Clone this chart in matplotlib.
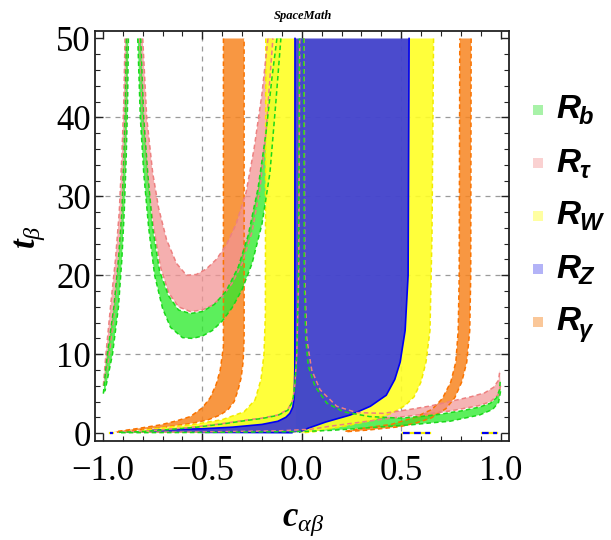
import matplotlib
matplotlib.use("Agg")
import matplotlib.pyplot as plt
from matplotlib.patches import Polygon, Rectangle
import numpy as np

plt.rcParams['mathtext.fontset'] = 'custom'
plt.rcParams['mathtext.rm'] = 'Liberation Serif'
plt.rcParams['mathtext.it'] = 'Liberation Serif:italic'
plt.rcParams['mathtext.bf'] = 'Liberation Serif:bold'
plt.rcParams['mathtext.bfit'] = 'Liberation Serif:italic:bold'
plt.rcParams['font.family'] = ['Liberation Serif', 'DejaVu Serif']

# ---------------- axis ticks ----------------
x_ticks = [-1.0, -0.5, 0.0, 0.5, 1.0]
x_tick_labels = ['\u22121.0', '\u22120.5', '0.0', '0.5', '1.0']
y_ticks = [0, 10, 20, 30, 40, 50]
y_tick_labels = ['0', '10', '20', '30', '40', '50']

# ---------------- R_b (green) ----------------
rb_branch_left_x = [-0.998, -0.978, -0.945, -0.922, -0.905, -0.895, -0.887, -0.882]
rb_branch_left_y = [5.0, 10, 16, 22, 28, 35, 42, 50]
rb_branch_right_x = [-0.872, -0.876, -0.883, -0.893, -0.905, -0.922, -0.952, -0.99]
rb_branch_right_y = [50, 42, 35, 28, 22, 16, 10, 5.3]

rb_u_outer_x = [-0.825, -0.812, -0.795, -0.77, -0.74, -0.70, -0.66, -0.60, -0.55, -0.50,
                -0.45, -0.40, -0.35, -0.30, -0.25, -0.20, -0.16, -0.13, -0.105]
rb_u_outer_y = [50, 40, 33, 26, 20, 15.8, 13.4, 12.1, 12.0, 12.3,
                13.0, 14.2, 15.9, 18.2, 21.5, 26.5, 33, 42, 50]
rb_u_inner_x = [-0.81, -0.795, -0.775, -0.75, -0.715, -0.67, -0.62, -0.56, -0.50,
                -0.44, -0.38, -0.32, -0.27, -0.22, -0.18, -0.15, -0.125]
rb_u_inner_y = [50, 40, 33, 26, 20.5, 17.4, 15.6, 15.15, 15.4,
                16.3, 18.0, 21.0, 25, 31, 38, 45, 50]

rb_low_upper_x = [-0.92, -0.80, -0.70, -0.53, -0.40, -0.28, -0.20, -0.12, -0.07, -0.045,
                  -0.035, -0.025, -0.017, -0.012]
rb_low_upper_y = [0.1, 0.2, 0.38, 0.75, 1.15, 1.6, 1.85, 2.25, 2.9, 4.1, 6, 10, 20, 50]
rb_low_right_x = [0.01, 0.012, 0.02, 0.033, 0.067, 0.126, 0.21, 0.34, 0.49, 0.6, 0.7,
                  0.745, 0.8, 0.895, 0.95, 0.98, 0.995, 0.998]
rb_low_right_y = [50, 20, 12, 8.5, 5.9, 3.8, 2.7, 2.1, 1.9, 2.1, 2.4,
                  2.6, 2.8, 3.3, 3.8, 4.5, 5.5, 6.5]
rb_low_lower_x = [1.0, 0.99, 0.96, 0.895, 0.80, 0.745, 0.65, 0.55, 0.35, 0.15, 0.0, -0.5, -0.92]
rb_low_lower_y = [5.3, 3.9, 3.0, 2.3, 1.8, 1.5, 1.3, 1.05, 0.7, 0.35, 0.2, 0.08, 0.05]

# ---------------- R_tau (pink) ----------------
rt_branch_left_x = [-0.998, -0.985, -0.962, -0.937, -0.918, -0.905, -0.895, -0.889]
rt_branch_left_y = [6.0, 10, 16, 22, 28, 35, 42, 50]
rt_branch_right_x = [-0.879, -0.884, -0.892, -0.904, -0.921, -0.94, -0.968, -0.992]
rt_branch_right_y = [50, 42, 35, 28, 22, 16, 10, 6.5]

rt_u_outer_x = [-0.815, -0.80, -0.775, -0.745, -0.71, -0.67, -0.62, -0.56, -0.50, -0.45,
                -0.40, -0.35, -0.30, -0.25, -0.21, -0.18, -0.16, -0.145]
rt_u_outer_y = [50, 40, 32, 26, 21, 17.8, 16.0, 15.4, 15.6, 16.2,
                17.3, 19.0, 21.5, 25.5, 31, 38, 45, 50]
rt_u_inner_x = [-0.80, -0.78, -0.75, -0.72, -0.68, -0.63, -0.58, -0.53, -0.48, -0.43,
                -0.38, -0.33, -0.28, -0.24, -0.20, -0.17]
rt_u_inner_y = [50, 40, 33, 28.5, 24.5, 21.5, 20.0, 20.1, 20.8, 22.0,
                23.8, 26.5, 30.5, 36, 43, 50]

rt_low_upper_x = [-0.90, -0.80, -0.70, -0.53, -0.40, -0.28, -0.20, -0.12, -0.07, -0.045,
                  -0.035, -0.025, -0.015, -0.01]
rt_low_upper_y = [0.15, 0.25, 0.42, 0.8, 1.2, 1.65, 1.9, 2.3, 3.0, 4.2, 6, 10, 20, 50]
rt_low_right_x = [0.012, 0.015, 0.025, 0.05, 0.092, 0.176, 0.276, 0.41, 0.544, 0.65,
                  0.745, 0.85, 0.92, 0.965, 0.99, 0.997]
rt_low_right_y = [50, 20, 12, 8, 5.5, 3.4, 2.6, 2.5, 3.0, 3.45,
                  4.0, 4.6, 5.1, 5.8, 6.7, 8.0]
rt_low_lower_x = [1.0, 0.99, 0.95, 0.895, 0.80, 0.745, 0.65, 0.55, 0.45, 0.3, 0.15, 0.05,
                  -0.10, -0.50, -0.90]
rt_low_lower_y = [6.0, 4.9, 4.0, 3.5, 3.05, 2.8, 2.5, 2.2, 1.9, 1.4, 0.9, 0.5,
                  0.3, 0.15, 0.1]

# ---------------- R_W (yellow) ----------------
rw_left_outer_x = [-0.181, -0.183, -0.19, -0.205, -0.235, -0.29, -0.40, -0.545, -0.71, -0.80, -0.82]
rw_left_outer_y = [50, 15, 10, 6.8, 4.2, 2.7, 1.7, 1.1, 0.65, 0.35, 0.12]
rw_left_inner_x = [-0.03, -0.03]
rw_left_inner_y = [0.05, 50]

rw_right_outer_x = [0.663, 0.655, 0.645, 0.625, 0.60, 0.565, 0.52, 0.46, 0.36, 0.2, 0.06, 0.0]
rw_right_outer_y = [50, 25, 13, 9, 6.5, 4.6, 3.5, 2.6, 1.65, 0.8, 0.17, 0.03]

# ---------------- R_Z (blue) ----------------
rz_left_x = [-0.034, -0.035, -0.038, -0.045, -0.06, -0.08, -0.12, -0.2, -0.35, -0.5, -0.65, -0.75, -0.76]
rz_left_y = [50, 8, 4.5, 3.3, 2.5, 2.0, 1.5, 1.1, 0.75, 0.55, 0.45, 0.35, 0.15]
rz_bottom_x = [-0.5, -0.2, -0.05]
rz_bottom_y = [0.1, 0.07, 0.05]
rz_right_x = [-0.01, 0.03, 0.12, 0.245, 0.345, 0.425, 0.468, 0.495, 0.52, 0.535, 0.54]
rz_right_y = [0.15, 0.6, 1.4, 2.3, 3.4, 4.8, 6.8, 9, 13, 20, 50]

# ---------------- R_gamma (orange) ----------------
rg_left_upper_x = [-0.394, -0.394, -0.41, -0.43, -0.46, -0.50, -0.56, -0.63, -0.71, -0.82, -0.94]
rg_left_upper_y = [50, 11, 8, 6.2, 4.5, 3.2, 2.1, 1.55, 1.05, 0.6, 0.17]
rg_left_lower_x = [-0.93, -0.82, -0.70, -0.55, -0.47, -0.41, -0.37, -0.34, -0.32, -0.305, -0.295, -0.29, -0.29]
rg_left_lower_y = [0.12, 0.4, 0.7, 1.25, 1.7, 2.3, 3.0, 4.0, 5.5, 7, 9, 12, 50]

rg_right_outer_x = [0.852, 0.85, 0.845, 0.83, 0.805, 0.77, 0.725, 0.65, 0.57, 0.49, 0.33, 0.22]
rg_right_outer_y = [50, 20, 13, 9, 6.5, 4.5, 3.1, 1.9, 1.25, 0.8, 0.38, 0.17]
rg_right_inner_x = [0.22, 0.33, 0.45, 0.57, 0.655, 0.708, 0.75, 0.775, 0.787, 0.792, 0.795]
rg_right_inner_y = [0.25, 0.7, 1.1, 2.0, 3.0, 4.4, 6.5, 9, 13, 20, 50]

# short marks lying on the lower edge of the plot range
floor_marks_x0 = [-0.967, 0.51, 0.905]
floor_marks_x1 = [-0.95, 0.645, 0.98]

legend_labels = ['b', '\u03c4', 'W', 'Z', '\u03b3']

# ---------------- styles ----------------
C_GREEN = (0.18, 0.92, 0.18)
C_PINK = (0.95, 0.58, 0.58)
C_YELLOW = (1.0, 1.0, 0.15)
C_BLUE = (0.27, 0.27, 0.80)
C_ORANGE = (0.97, 0.52, 0.13)

E_GREEN = (0.1, 0.85, 0.1)
E_PINK = (0.93, 0.5, 0.5)
E_YELLOW = (0.95, 0.92, 0.0)
E_BLUE = (0.0, 0.0, 0.95)
E_ORANGE = (0.98, 0.45, 0.0)


def band(ax, ax_list, ay_list, bx_list, by_list, color, alpha, z):
    xs = list(ax_list) + list(bx_list)
    ys = list(ay_list) + list(by_list)
    poly = Polygon(np.column_stack([xs, ys]), closed=True, facecolor=color,
                   edgecolor='none', alpha=alpha, zorder=z)
    ax.add_patch(poly)


def edge(ax, xs, ys, color, z=6, lw=1.1):
    ax.plot(xs, ys, color=color, lw=lw, ls=(0, (3.0, 2.0)), zorder=z,
            solid_capstyle='butt', dash_capstyle='butt')


fig = plt.figure(figsize=(6.11, 5.40), dpi=100)
ax = fig.add_axes([95 / 611, 1 - 441 / 540, (509.5 - 95) / 611, (441 - 30.6) / 540])
ax.set_xlim(-1.04, 1.045)
ax.set_ylim(-1.0, 51.0)

# grid
for gx in [-0.5, 0.5]:
    ax.axvline(gx, color='#9a9a9a', lw=0.9, ls=(0, (4, 4)), zorder=0.5)
for gy in [10, 20, 30, 40]:
    ax.axhline(gy, color='#9a9a9a', lw=0.9, ls=(0, (4, 4)), zorder=0.5)

# orange
band(ax, rg_left_upper_x, rg_left_upper_y, rg_left_lower_x, rg_left_lower_y, C_ORANGE, 0.85, 1)
band(ax, rg_right_outer_x, rg_right_outer_y, rg_right_inner_x, rg_right_inner_y, C_ORANGE, 0.85, 1)

# pink
band(ax, rt_branch_left_x, rt_branch_left_y, rt_branch_right_x, rt_branch_right_y, C_PINK, 0.75, 2)
band(ax, rt_u_outer_x, rt_u_outer_y, rt_u_inner_x[::-1], rt_u_inner_y[::-1], C_PINK, 0.75, 2)
band(ax, rt_low_upper_x + rt_low_right_x, rt_low_upper_y + rt_low_right_y,
     rt_low_lower_x, rt_low_lower_y, C_PINK, 0.7, 2)

# green
band(ax, rb_branch_left_x, rb_branch_left_y, rb_branch_right_x, rb_branch_right_y, C_GREEN, 0.8, 3)
band(ax, rb_u_outer_x, rb_u_outer_y, rb_u_inner_x[::-1], rb_u_inner_y[::-1], C_GREEN, 0.78, 3)
band(ax, rb_low_upper_x + rb_low_right_x, rb_low_upper_y + rb_low_right_y,
     rb_low_lower_x, rb_low_lower_y, C_GREEN, 0.78, 3)

# yellow
band(ax, rw_left_outer_x, rw_left_outer_y, rw_left_inner_x, rw_left_inner_y, C_YELLOW, 0.9, 4)
band(ax, rw_right_outer_x, rw_right_outer_y, rz_right_x, rz_right_y, C_YELLOW, 0.9, 4)

# blue
band(ax, rz_left_x + rz_bottom_x, rz_left_y + rz_bottom_y, rz_right_x, rz_right_y, C_BLUE, 0.97, 5)

# boundaries
edge(ax, rg_left_upper_x, rg_left_upper_y, E_ORANGE)
edge(ax, rg_left_lower_x, rg_left_lower_y, E_ORANGE)
edge(ax, rg_right_outer_x, rg_right_outer_y, E_ORANGE)
edge(ax, rg_right_inner_x, rg_right_inner_y, E_ORANGE)

edge(ax, rw_left_outer_x, rw_left_outer_y, E_YELLOW)
edge(ax, rw_right_outer_x, rw_right_outer_y, E_YELLOW)

ax.plot(rz_left_x, rz_left_y, color=E_BLUE, lw=1.2, zorder=6)
ax.plot(rz_right_x, rz_right_y, color=E_BLUE, lw=1.2, zorder=6)
ax.plot(rz_bottom_x, rz_bottom_y, color=E_BLUE, lw=1.2, zorder=6)

for xs, ys in [(rt_branch_left_x, rt_branch_left_y), (rt_branch_right_x, rt_branch_right_y),
               (rt_u_outer_x, rt_u_outer_y), (rt_u_inner_x, rt_u_inner_y),
               (rt_low_upper_x, rt_low_upper_y), (rt_low_right_x, rt_low_right_y),
               (rt_low_lower_x, rt_low_lower_y)]:
    edge(ax, xs, ys, E_PINK, z=7)
for xs, ys in [(rb_branch_left_x, rb_branch_left_y), (rb_branch_right_x, rb_branch_right_y),
               (rb_u_outer_x, rb_u_outer_y), (rb_u_inner_x, rb_u_inner_y),
               (rb_low_upper_x, rb_low_upper_y), (rb_low_right_x, rb_low_right_y),
               (rb_low_lower_x, rb_low_lower_y)]:
    edge(ax, xs, ys, E_GREEN, z=7)

for x0, x1 in zip(floor_marks_x0, floor_marks_x1):
    ax.plot([x0, x1], [0.05, 0.05], color=E_YELLOW, lw=1.6, zorder=6)
    ax.plot([x0, x1], [0.05, 0.05], color=E_BLUE, lw=1.6, ls=(0, (3, 2)), zorder=7)

# frame and ticks
for sp in ax.spines.values():
    sp.set_linewidth(1.3)
    sp.set_color('#222222')
ax.set_xticks(x_ticks)
ax.set_xticklabels(x_tick_labels)
ax.set_yticks(y_ticks)
ax.set_yticklabels(y_tick_labels)
ax.set_xticks(np.arange(-1.0, 1.001, 0.1), minor=True)
ax.set_yticks(np.arange(0, 50.1, 2), minor=True)
ax.tick_params(which='both', direction='in', top=True, right=True, colors='#222222')
ax.tick_params(which='major', length=6, width=1.0)
ax.tick_params(which='minor', length=3.5, width=0.8)
ax.tick_params(axis='x', pad=10, labelsize=25, labelcolor='black')
ax.tick_params(axis='y', pad=3, labelsize=25, labelcolor='black')

# axis labels and title
fig.text(303 / 611, 1 - 522 / 540, r'$\mathbfit{c}_{\alpha\beta}$', fontsize=25,
         ha='center', va='center')
fig.text(30 / 611, 1 - 237 / 540, r'$\mathbfit{t}_{\beta}$', fontsize=25,
         ha='center', va='center', rotation=90)
fig.text(303 / 611, 1 - 16 / 540, 'SpaceMath', fontsize=9, fontstyle='italic',
         fontweight='bold', ha='center', va='center')

# legend
leg_colors = [(0.66, 0.95, 0.66), (0.98, 0.82, 0.82), (1.0, 1.0, 0.63),
              (0.70, 0.70, 0.97), (0.98, 0.78, 0.60)]
leg_y = [110, 163, 216, 269, 322]
for lab, col, yy in zip(legend_labels, leg_colors, leg_y):
    fig.patches.append(Rectangle((533 / 611, 1 - (yy + 5) / 540), 10 / 611, 10 / 540,
                                 transform=fig.transFigure, facecolor=col,
                                 edgecolor='none', figure=fig))
    fig.text(556 / 611, 1 - yy / 540, 'R', fontsize=24, fontweight='bold',
             fontstyle='italic', family='Liberation Sans', ha='left', va='center')
    fig.text(579 / 611, 1 - (yy + 8) / 540, lab, fontsize=17, fontweight='bold',
             fontstyle='italic', family=['Liberation Sans', 'DejaVu Sans'],
             ha='left', va='center')

fig.savefig('out.png', dpi=100)
